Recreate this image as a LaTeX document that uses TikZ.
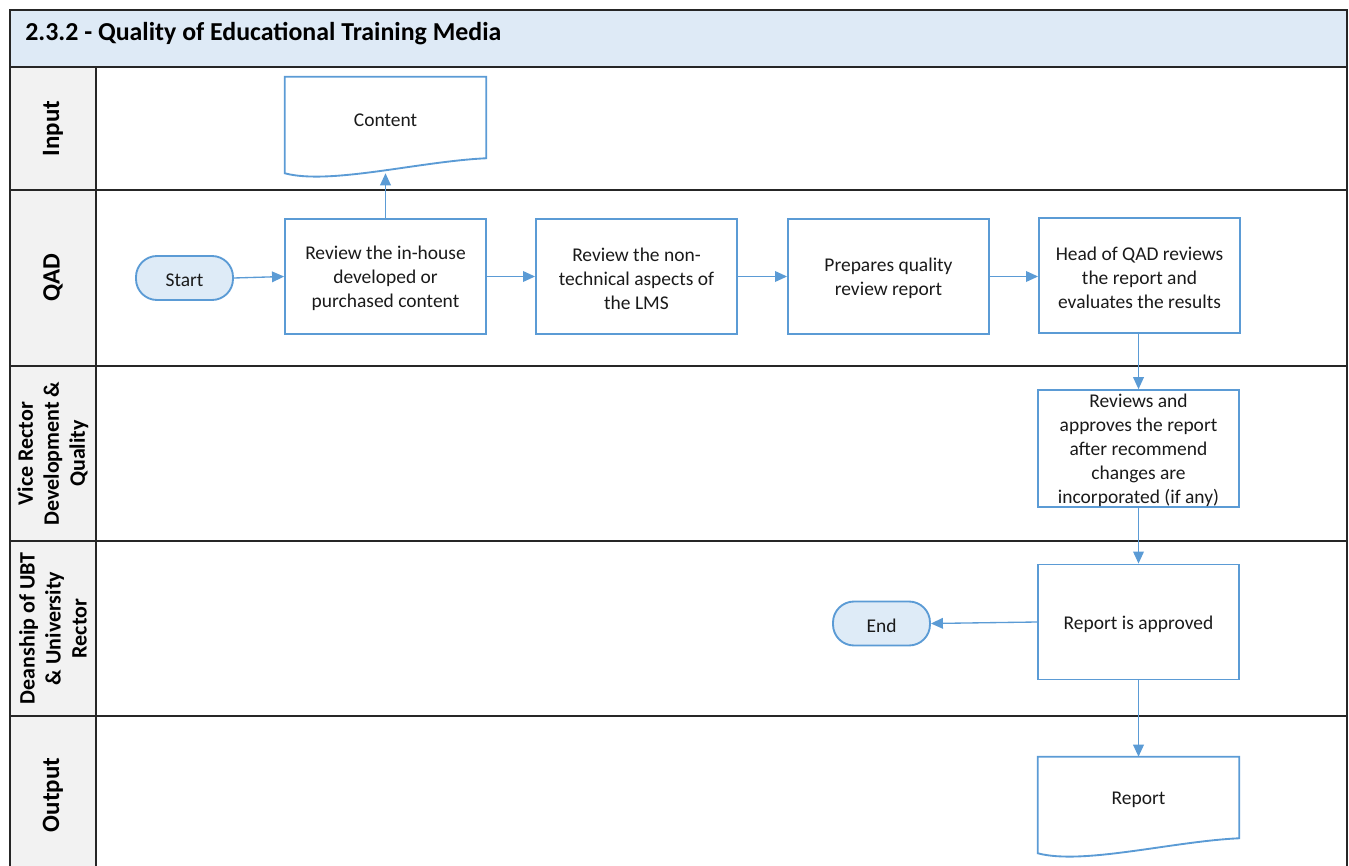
\documentclass[tikz,border=0pt]{standalone}
\usepackage{fontspec}
\setmainfont{Carlito}
\usetikzlibrary{arrows.meta,calc}

% one drawing unit = 0.75pt
\newlength\pxl
\setlength\pxl{0.75pt}

\definecolor{lanefill}{HTML}{F2F2F2}
\definecolor{titlefill}{HTML}{DEEAF6}
\definecolor{flowblue}{HTML}{5B9BD5}
\definecolor{termfill}{HTML}{DEEBF7}
\definecolor{inkblack}{HTML}{1A1A1A}
\definecolor{rulegray}{HTML}{262626}

% strut that sets the height of the first text line in a box
\newcommand\firstline{\rule{0pt}{13.2pt}}

% outline of a document shape: straight top and sides, wavy bottom
\newcommand\docoutline[1]{%
  \draw[docline] (#1.north west) -- (#1.north east) -- (#1.south east)
    .. controls ($(#1.south west)+(135,3)$) and ($(#1.south west)+(45,27)$)
    .. ($(#1.south west)+(0,15)$) -- cycle;}

\begin{document}
\begin{tikzpicture}[x=0.75pt, y=-0.75pt,
  lanerule/.style={draw=rulegray, line width=1.5pt},
  bodyfont/.style={font=\fontsize{14.6}{18}\selectfont},
  stepbox/.style={draw=flowblue, line width=1.4pt, minimum width=201\pxl,
    minimum height=115\pxl, inner sep=0pt, align=center, text=inkblack, bodyfont},
  termbox/.style={draw=flowblue, fill=termfill, line width=1.4pt,
    rounded corners=21\pxl, minimum width=97\pxl, minimum height=44\pxl,
    inner sep=0pt, text=inkblack, bodyfont},
  docbox/.style={minimum width=201\pxl, minimum height=81\pxl, inner sep=0pt,
    align=center, text=inkblack, bodyfont},
  docline/.style={draw=flowblue, line width=1.4pt},
  flow/.style={draw=flowblue, line width=1pt, -{Triangle[length=9pt,width=8pt]}},
  lanelabel/.style={rotate=90, align=center, text=black,
    font=\bfseries\fontsize{18.7}{22}\selectfont},
  lanelabelsmall/.style={rotate=90, align=center, text=black,
    font=\bfseries\fontsize{16.5}{19.5}\selectfont}
]
\useasboundingbox (0,0) rectangle (1349,866);

% backgrounds
\fill[titlefill] (10,10) rectangle (1347,67);
\fill[lanefill] (10,67) rectangle (96,866);

% title
\node[anchor=base west, inner sep=0pt, font=\bfseries\fontsize{19.4}{23}\selectfont]
  (title) at (25,41) {2.3.2 - Quality of Educational Training Media};

% lane frame
\draw[lanerule] (10,866) -- (10,10) -- (1347,10) -- (1347,866);
\foreach \yy in {67,190,366,541,716}
  \draw[lanerule] (10,\yy) -- (1347,\yy);
\draw[lanerule] (96,67) -- (96,866);

% lane labels
\node[lanelabel] (lInput) at (53,128.5) {Input};
\node[lanelabel] (lQAD) at (53,278) {QAD};
\node[lanelabelsmall] (lVice) at (53,453.5) {Vice Rector\\Development \&\\Quality};
\node[lanelabelsmall] (lDean) at (53,628.5) {Deanship of UBT\\\& University\\Rector};
\node[lanelabel] (lOutput) at (53,795) {Output};

% input document
\node[docbox] (content) at (385.5,117.5) {\firstline Content};
\docoutline{content}
\coordinate (contentin) at ($(content.south)+(0,15)$);

% QAD lane
\node[termbox] (start) at (184.5,278) {\firstline Start};
\node[stepbox] (b1) at (385.5,276.5) {\firstline Review the in-house\\developed or\\purchased content};
\node[stepbox] (b2) at (636.5,276.5) {\firstline Review the non-\\technical aspects of\\the LMS};
\node[stepbox] (b3) at (888.5,276.5) {\firstline Prepares quality\\review report};
\node[stepbox] (b4) at (1139.5,275.5) {\firstline Head of QAD reviews\\the report and\\evaluates the results};

% Vice Rector lane
\node[stepbox] (b5) at (1138.5,448.5) {\firstline Reviews and\\approves the report\\after recommend\\changes are\\incorporated (if any)};

% Deanship lane
\node[stepbox] (b6) at (1138.5,622) {\firstline Report is approved};
\node[termbox] (end) at (881.5,623.5) {\firstline End};

% output document
\node[docbox] (report) at (1138.5,797.5) {\firstline Report};
\docoutline{report}

% connectors
\draw[flow] (start.east) -- (b1.west);
\draw[flow] (b1.east) -- (b2.west);
\draw[flow] (b2.east) -- (b3.west);
\draw[flow] (b3.east) -- (b4.west |- b3.east);
\draw[flow] (b1.north) -- (b1.north |- contentin);
\draw[flow] (b4.south -| b5.north) -- (b5.north);
\draw[flow] (b5.south) -- (b6.north);
\draw[flow] (b6.west) -- (end.east);
\draw[flow] (b6.south) -- (report.north);
\end{tikzpicture}
\end{document}
